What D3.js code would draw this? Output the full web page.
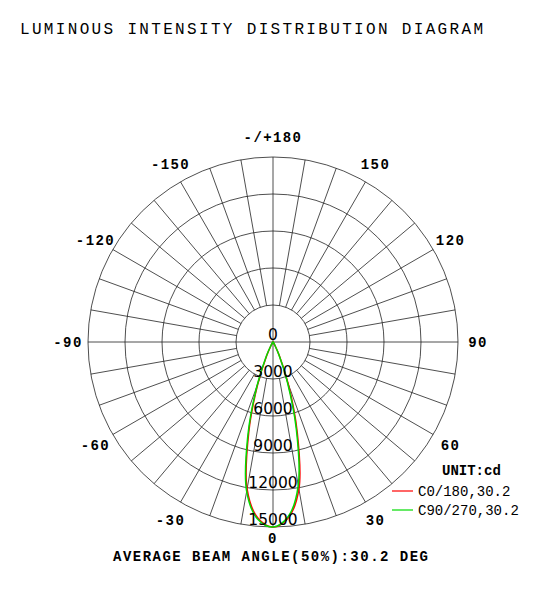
<!DOCTYPE html>
<html><head><meta charset="utf-8">
<script src="https://cdn.jsdelivr.net/npm/d3@7"></script>
<style>body{margin:0;background:#fff}</style>
</head><body>
<svg id="c" width="550" height="600"></svg>
<script>
const angles = [-40, -35, -30, -25, -20, -15, -10, -5, 0, 5, 10, 15, 20, 25, 30, 35, 40];
const c0 = [0, 100, 300, 1200, 3600, 7600, 12100, 14300, 15000, 14300, 12100, 7600, 3600, 1200, 300, 100, 0];
const c90 = [0, 100, 350, 1300, 3800, 7900, 12300, 14400, 15000, 14200, 11800, 7300, 3300, 1100, 300, 100, 0];
const ringTicks = [0, 3000, 6000, 9000, 12000, 15000];
const angleTicks = [0, 30, 60, 90, 120, 150, 180, -150, -120, -90, -60, -30];
const angleNames = ['0', '30', '60', '90', '120', '150', '-/+180', '-150', '-120', '-90', '-60', '-30'];
const series = [
  { name: 'C0/180,30.2', color: '#ff0000', values: c0 },
  { name: 'C90/270,30.2', color: '#00dd00', values: c90 },
];

const cx = 273, cy = 342;
const svg = d3.select('#c');
const r = d3.scaleLinear().domain([0, 15000]).range([0, 185]);
const pt = (deg, rad) => {
  const a = deg * Math.PI / 180;
  return [cx + rad * Math.sin(a), cy + rad * Math.cos(a)];
};

svg.append('text').attr('x', 20).attr('y', 34)
  .attr('font-family', 'Liberation Mono').attr('font-size', 16)
  .attr('textLength', 463).attr('lengthAdjust', 'spacing')
  .text('LUMINOUS INTENSITY DISTRIBUTION DIAGRAM');

const grid = svg.append('g').attr('stroke', '#222').attr('fill', 'none').attr('stroke-width', 0.8);
ringTicks.slice(1).forEach(v => grid.append('circle').attr('cx', cx).attr('cy', cy).attr('r', r(v)));
d3.range(0, 360, 10).forEach(d => {
  const inner = d % 90 === 0 ? 0 : r(3000);
  const [x1, y1] = pt(d, inner), [x2, y2] = pt(d, r(15000));
  grid.append('line').attr('x1', x1).attr('y1', y1).attr('x2', x2).attr('y2', y2);
});

const line = d3.line().curve(d3.curveCatmullRom);
series.forEach(s => {
  svg.append('path').attr('fill', 'none').attr('stroke', s.color).attr('stroke-width', 1.5)
    .attr('d', line(angles.map((a, i) => pt(a, r(s.values[i])))) + 'Z');
});

svg.append('g').selectAll('text').data(ringTicks).join('text')
  .attr('x', cx).attr('y', v => cy + r(v) - 2).attr('text-anchor', 'middle')
  .attr('font-family', 'DejaVu Sans').attr('font-size', 15.5)
  .text(v => v);

svg.append('g').selectAll('text').data(angleTicks).join('text')
  .attr('x', d => pt(d, d === 0 ? 196 : 205)[0]).attr('y', d => pt(d, d === 0 ? 196 : 205)[1] + 5)
  .attr('text-anchor', 'middle').attr('font-family', 'Liberation Mono')
  .attr('font-weight', 'bold').attr('font-size', 14).attr('letter-spacing', 1.4)
  .text((d, i) => angleNames[i]);

svg.append('text').attr('x', 113).attr('y', 561)
  .attr('font-family', 'Liberation Mono').attr('font-weight', 'bold').attr('font-size', 14)
  .attr('textLength', 315).attr('lengthAdjust', 'spacing')
  .text('AVERAGE BEAM ANGLE(50%):30.2 DEG');

const leg = svg.append('g').attr('font-family', 'Liberation Mono').attr('font-size', 14);
leg.append('text').attr('x', 442).attr('y', 475).attr('font-weight', 'bold').text('UNIT:cd');
series.forEach((s, i) => {
  const y = 491 + i * 19;
  leg.append('line').attr('x1', 392).attr('x2', 413).attr('y1', y).attr('y2', y).attr('stroke', s.color).attr('stroke-width', 1.2);
  leg.append('text').attr('x', 418).attr('y', y + 5).text(s.name);
});
</script>
</body></html>
